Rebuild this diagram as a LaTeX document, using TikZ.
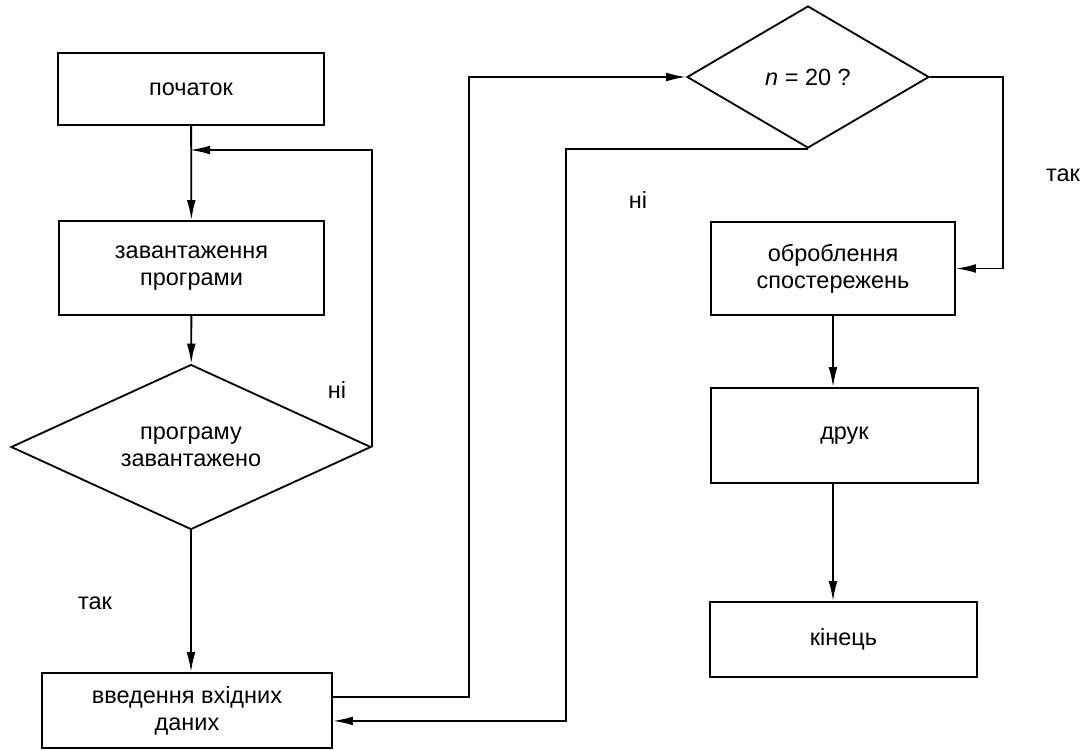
\documentclass[tikz,border=0pt]{standalone}
\usepackage{fontspec}
\setmainfont{Liberation Sans}
\usetikzlibrary{shapes,arrows.meta,positioning,calc}

\def\pxu{0.025cm}
\tikzset{
  every node/.style={font=\fontsize{16.7pt}{19.2pt}\selectfont},
  block/.style={draw, line width=1.3pt, rectangle, align=center, inner sep=0},
  decide/.style={draw, line width=1.3pt, diamond, aspect=2.2, align=center, inner sep=0},
  flow/.style={line width=1.3pt, -{Latex[length=0.5cm,width=0.22cm]}},
  wire/.style={line width=1.3pt},
}

\begin{document}
\begin{tikzpicture}[x=\pxu, y=-\pxu]
\useasboundingbox (0,0) rectangle (1089,750);

% left column
\node[block, minimum width=266*\pxu, minimum height=72*\pxu] (start) at (191,89) {початок};
\node[block, minimum width=265*\pxu, minimum height=94*\pxu] (load) at (191.5,268) {завантаження\\програми};
\node[decide, minimum width=360*\pxu, minimum height=165*\pxu] (loaded) at (191,447) {програму\\завантажено};
\node[block, minimum width=290*\pxu, minimum height=75*\pxu] (input) at (187,710.5) {введення вхідних\\даних};

% right column
\node[decide, minimum width=242*\pxu, minimum height=142*\pxu] (test) at (808,77) {\textit{n} = 20 ?};
\node[block, minimum width=244*\pxu, minimum height=93*\pxu] (proc) at (833,268.5) {оброблення\\спостережень};
\node[block, minimum width=267*\pxu, minimum height=95*\pxu] (print) at (844.5,435.5) {друк};
\node[block, minimum width=267*\pxu, minimum height=75*\pxu] (stop) at (843.5,639.5) {кінець};

% branch labels
\node (noA) at (337,390) {ні};
\node (yesA) at (95,603) {так};
\node (noB) at (638,200) {ні};
\node (yesB) at (1063,175) {так};

\coordinate (merge) at (190,150);
\coordinate (outer) at (469,0);
\coordinate (inner) at (566,0);
\coordinate (yes) at (1003,0);

\draw[flow] (start) -- (load);
\draw[flow] (load) -- (loaded);
\draw[flow] (loaded.east) |- (merge);
\draw[flow] (loaded.south) -- (loaded.south |- input.north);

\draw[flow] ([yshift=0.33cm]input.east) -| (outer |- test.west) -- (test.west);
\draw[flow] (test.south) -- (test.south -| inner) |- ([yshift=-0.26cm]input.east);
\draw[flow] (test.east) -- (test.east -| yes) |- (proc.east);

\draw[flow] (proc.south) -- (proc.south |- print.north);
\draw[flow] (proc.south |- print.south) -- (proc.south |- stop.north);

\end{tikzpicture}
\end{document}
